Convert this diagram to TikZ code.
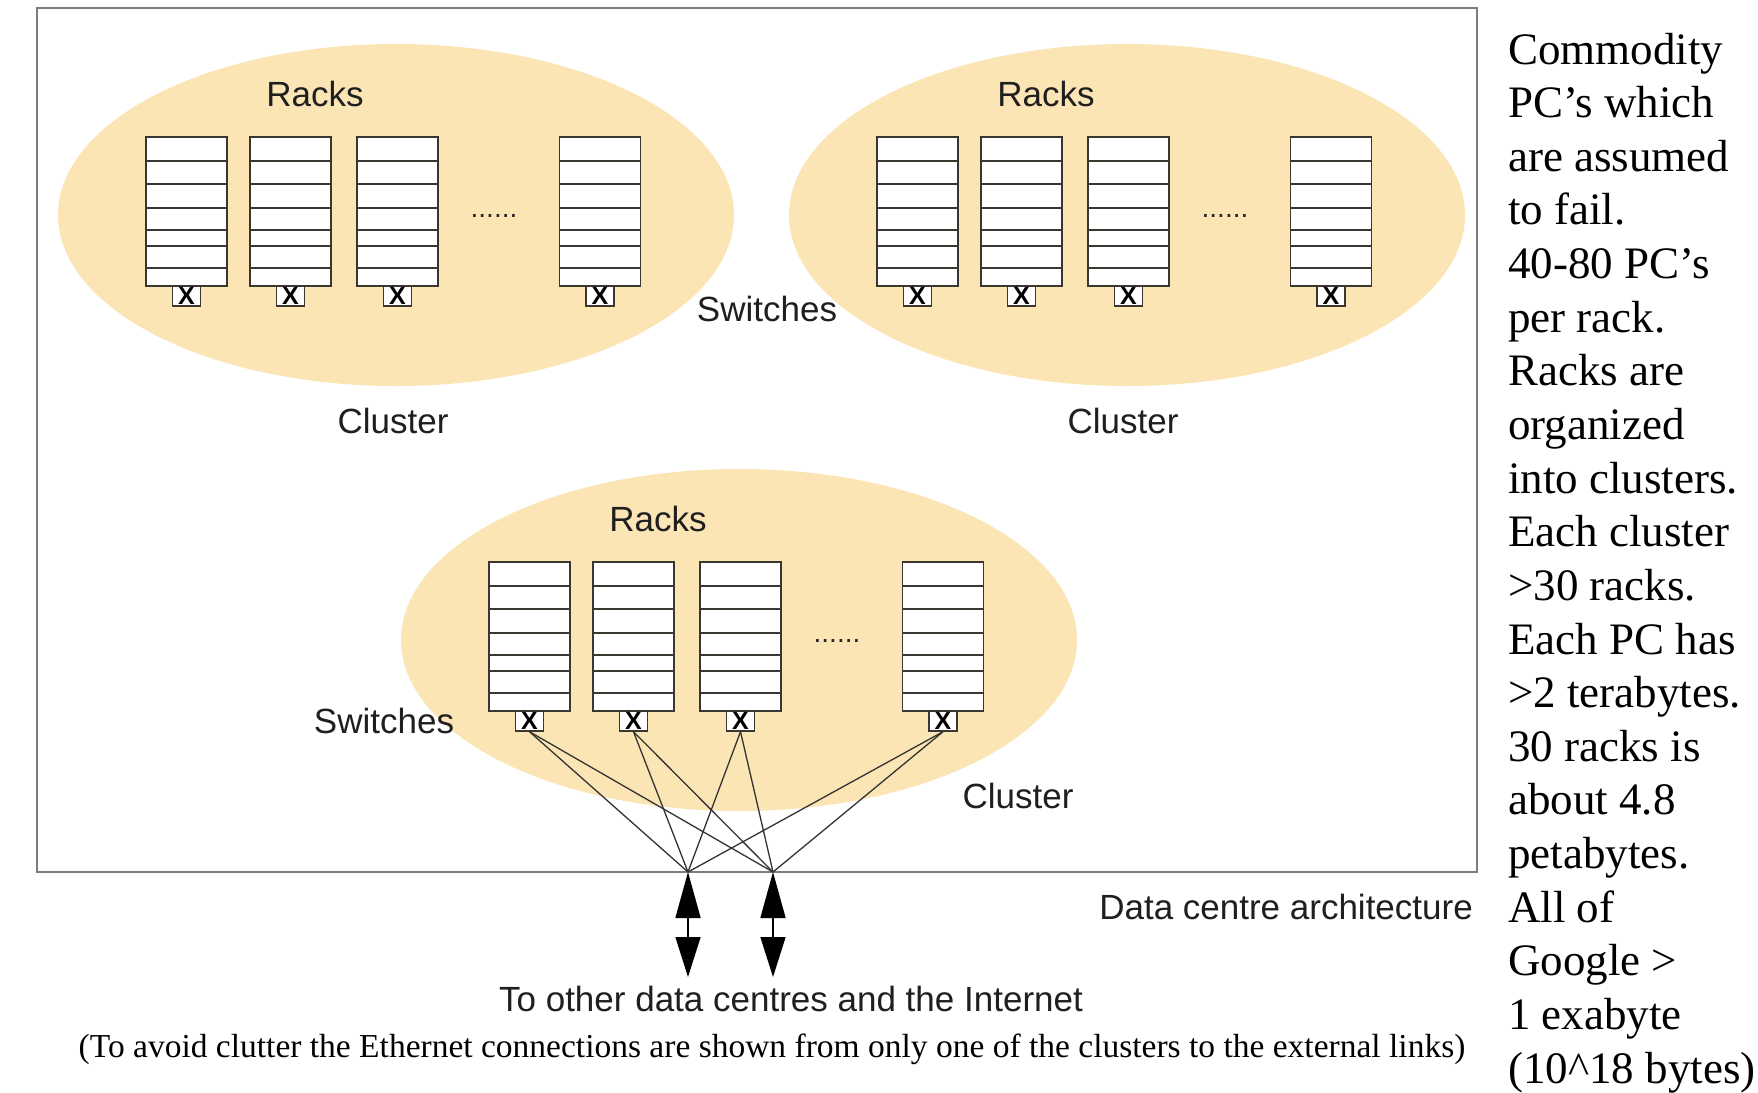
\documentclass[tikz,border=0pt]{standalone}
\usepackage{fontspec}
\setmainfont{Liberation Serif}
\setsansfont{Liberation Sans}
\usetikzlibrary{arrows.meta}
\definecolor{clusterfill}{RGB}{252,229,181}
\definecolor{framegray}{RGB}{125,125,125}
\definecolor{rackline}{RGB}{60,54,48}
\newcommand\drawcluster[3]{%
  \fill[clusterfill] (#2,#3) ellipse [x radius=338pt, y radius=171pt];
  \foreach \dx [count=\k] in {-209.5,-105.5,1.5,204}
    \pic (#1r\k) at ({#2+\dx},{#3-78}) {rack};
  \node[lbl] (#1racks) at ({#2-81},{#3-121}) {Racks};
  \node[dotsstyle] (#1dots) at ({#2+98},{#3+1}) {......};
}
\begin{document}
\begin{tikzpicture}[x=1pt,y=-1pt,
  lbl/.style={font=\sffamily\fontsize{35}{42}\selectfont, inner sep=0pt, text=black!88},
  dotsstyle/.style={font=\sffamily\fontsize{28}{28}\selectfont, inner sep=0pt, text=black!85},
  note/.style={font=\rmfamily\fontsize{45}{53}\selectfont, inner sep=0pt, anchor=base west},
  rackedge/.style={draw=rackline, line width=1.8pt},
  switchbox/.style={draw=rackline, line width=1.4pt, fill=white, minimum width=28pt, minimum height=20pt, inner sep=0pt, font=\sffamily\bfseries\fontsize{25}{25}\selectfont},
  link/.style={draw=black!80, line width=1.3pt},
  extarrow/.style={line width=1.5pt, {Triangle[length=46pt,width=25pt]}-{Triangle[length=40pt,width=25pt]}},
  rack/.pic={
    \draw[rackedge, fill=white] (-40.5,0) rectangle (40.5,149);
    \foreach \yy in {23.6,47.3,71,93,109.3,131} \draw[rackedge] (-40.5,\yy) -- (40.5,\yy);
    \node[switchbox] (-sw) at (0,159) {X};
  }
]
\useasboundingbox[fill=white] (0,0) rectangle (1758,1092);

% frame
\draw[framegray, line width=2pt] (37,8) rectangle (1477,872);

% clusters
\drawcluster{c1}{396}{215}
\drawcluster{c2}{1127}{215}
\drawcluster{c3}{739}{640}

% labels
\node[lbl] (cl1) at (393,421) {Cluster};
\node[lbl] (cl2) at (1123,421) {Cluster};
\node[lbl] (cl3) at (1018,796) {Cluster};
\node[lbl] (sw1) at (767,309) {Switches};
\node[lbl] (sw3) at (384,721) {Switches};
\node[lbl, anchor=east] (arch) at (1473,907) {Data centre architecture};
\node[lbl] (ext) at (791,999) {To other data centres and the Internet};
\node[font=\rmfamily\fontsize{33.5}{40}\selectfont, inner sep=0pt] (caption) at (772,1049)
  {(To avoid clutter the Ethernet connections are shown from only one of the clusters to the external links)};

% external links
\coordinate (A) at (688,872);
\coordinate (B) at (773,872);
\coordinate (Aend) at (688,977);
\coordinate (Bend) at (773,977);
\foreach \k in {1,2,3,4} {
  \draw[link] (c3r\k-sw.south) -- (A);
  \draw[link] (c3r\k-sw.south) -- (B);
}
\draw[extarrow] (A) -- (Aend);
\draw[extarrow] (B) -- (Bend);

% side notes
\foreach \t [count=\i] in {Commodity, PC's which, are assumed, to fail., 40-80 PC's, per rack., Racks are, organized, into clusters., Each cluster, >30 racks., Each PC has, >2 terabytes., 30 racks is, about 4.8, petabytes., All of, Google >, 1 exabyte, (10\textasciicircum 18 bytes)}
  \node[note] (t\i) at (1508,{64+(\i-1)*53.64}) {\t};
\end{tikzpicture}
\end{document}
